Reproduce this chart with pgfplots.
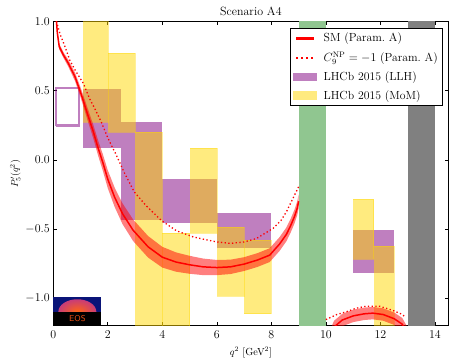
\documentclass[border=0pt]{standalone}
\usepackage{pgfplots}
\pgfplotsset{compat=1.18}
\usetikzlibrary{calc}
\definecolor{mred}{RGB}{255,0,0}
\definecolor{mpurple}{RGB}{128,0,128}
\definecolor{mgold}{RGB}{255,215,0}
\definecolor{mgreen}{RGB}{144,198,144}
\definecolor{mgray}{RGB}{128,128,128}
\definecolor{eosnavy}{RGB}{10,20,120}
\definecolor{eosorange}{RGB}{235,80,20}
\begin{document}
\begin{tikzpicture}
\begin{axis}[name=main,
  scale only axis, width=395.9bp, height=304.3bp,
  xmin=0, xmax=14.5, ymin=-1.2, ymax=1.0,
  xtick={0,2,4,6,8,10,12,14},
  ytick={-1,-0.5,0,0.5,1},
  tick align=inside, xtick pos=both, ytick pos=both,
  xticklabel pos=lower, yticklabel pos=left,
  major tick length=3.5bp,
  tick style={black, line width=0.6bp},
  axis line style={line width=0.8bp},
  yticklabel style={/pgf/number format/.cd, fixed, fixed zerofill, precision=1},
  ticklabel style={font=\fontsize{11.5}{13}\selectfont},
  xticklabel style={yshift=-1.5bp},
  title={Scenario A4}, title style={font=\fontsize{12}{14}\selectfont, yshift=-4bp},
  xlabel={$q^2$ [GeV$^2$]}, ylabel={$P_5'(q^2)$},
  label style={font=\fontsize{10.3}{12}\selectfont},
  xlabel style={yshift=-2bp},
  ylabel style={yshift=-2bp},
  legend style={at={(1,1)}, anchor=north east, xshift=-5.9bp, yshift=-6.6bp,
    draw=black, line width=0.8bp, fill=white,
    font=\fontsize{11.8}{14}\selectfont,
    inner xsep=3bp, inner ysep=3bp, row sep=5.5bp, column sep=5bp,
    nodes={inner sep=1.5bp}},
  legend cell align=left,
]
% LHCb 2015 likelihood (purple)
\addplot[draw=mpurple, draw opacity=0.5, line width=2.2bp, forget plot] coordinates {(0.11,0.248) (0.95,0.248) (0.95,0.517) (0.11,0.517) (0.11,0.248)};
\addplot[fill=mpurple, fill opacity=0.5, draw=none, forget plot] coordinates {(1.1,0.083) (2.5,0.083) (2.5,0.509) (1.1,0.509)};
\addplot[fill=mpurple, fill opacity=0.5, draw=none, forget plot] coordinates {(2.5,-0.437) (4.0,-0.437) (4.0,0.277) (2.5,0.277)};
\addplot[fill=mpurple, fill opacity=0.5, draw=none, forget plot] coordinates {(4.0,-0.46) (6.0,-0.46) (6.0,-0.14) (4.0,-0.14)};
\addplot[fill=mpurple, fill opacity=0.5, draw=none, forget plot] coordinates {(6.0,-0.642) (8.0,-0.642) (8.0,-0.388) (6.0,-0.388)};
\addplot[fill=mpurple, fill opacity=0.5, draw=none, forget plot] coordinates {(11.0,-0.819) (12.5,-0.819) (12.5,-0.51) (11.0,-0.51)};
% LHCb 2015 method of moments (yellow)
\addplot[fill=mgold, fill opacity=0.5, draw=mgold, draw opacity=0.4, line width=0.4bp, forget plot] coordinates {(1.1,0.275) (2.0,0.275) (2.0,1.3) (1.1,1.3)};
\addplot[fill=mgold, fill opacity=0.5, draw=mgold, draw opacity=0.4, line width=0.4bp, forget plot] coordinates {(2.0,0.2) (3.0,0.2) (3.0,0.775) (2.0,0.775)};
\addplot[fill=mgold, fill opacity=0.5, draw=mgold, draw opacity=0.4, line width=0.4bp, forget plot] coordinates {(3.0,-1.3) (4.0,-1.3) (4.0,0.2) (3.0,0.2)};
\addplot[fill=mgold, fill opacity=0.5, draw=mgold, draw opacity=0.4, line width=0.4bp, forget plot] coordinates {(4.0,-1.3) (5.0,-1.3) (5.0,-0.533) (4.0,-0.533)};
\addplot[fill=mgold, fill opacity=0.5, draw=mgold, draw opacity=0.4, line width=0.4bp, forget plot] coordinates {(5.0,-0.533) (6.0,-0.533) (6.0,0.087) (5.0,0.087)};
\addplot[fill=mgold, fill opacity=0.5, draw=mgold, draw opacity=0.4, line width=0.4bp, forget plot] coordinates {(6.0,-0.985) (7.0,-0.985) (7.0,-0.49) (6.0,-0.49)};
\addplot[fill=mgold, fill opacity=0.5, draw=mgold, draw opacity=0.4, line width=0.4bp, forget plot] coordinates {(7.0,-1.113) (8.0,-1.113) (8.0,-0.582) (7.0,-0.582)};
\addplot[fill=mgold, fill opacity=0.5, draw=mgold, draw opacity=0.4, line width=0.4bp, forget plot] coordinates {(11.0,-0.72) (11.75,-0.72) (11.75,-0.285) (11.0,-0.285)};
\addplot[fill=mgold, fill opacity=0.5, draw=mgold, draw opacity=0.4, line width=0.4bp, forget plot] coordinates {(11.75,-1.3) (12.5,-1.3) (12.5,-0.623) (11.75,-0.623)};
% vetoed regions
\addplot[fill=mgreen, draw=none, forget plot] coordinates {(9,-1.3) (10,-1.3) (10,1.1) (9,1.1)};
\addplot[fill=mgray, draw=none, forget plot] coordinates {(13,-1.3) (14,-1.3) (14,1.1) (13,1.1)};
% SM uncertainty band
\addplot[fill=mred, fill opacity=0.5, draw=none, forget plot] coordinates {
(0.10,1.05)(0.12,1.02)(0.15,0.94)(0.22,0.84)(0.37,0.78)(0.55,0.725)(0.80,0.63)(1.00,0.525)(1.27,0.369)(1.47,0.253)(1.65,0.138)(1.82,0.04)(2.00,-0.075)(2.25,-0.20)(2.54,-0.315)(2.93,-0.432)(3.48,-0.552)(4.00,-0.63)(4.50,-0.67)(5.00,-0.695)(5.50,-0.715)(6.00,-0.725)(6.50,-0.723)(7.00,-0.705)(7.50,-0.675)(7.94,-0.64)(8.30,-0.56)(8.55,-0.49)(8.70,-0.43)(8.85,-0.36)(8.95,-0.30)(9.00,-0.25)
(9.00,-0.35)(8.95,-0.40)(8.85,-0.46)(8.70,-0.53)(8.55,-0.59)(8.30,-0.66)(7.94,-0.74)(7.50,-0.775)(7.00,-0.805)(6.50,-0.827)(6.00,-0.835)(5.50,-0.835)(5.00,-0.825)(4.50,-0.81)(4.00,-0.78)(3.48,-0.708)(2.93,-0.588)(2.54,-0.465)(2.25,-0.34)(2.00,-0.205)(1.82,-0.08)(1.65,0.028)(1.47,0.153)(1.27,0.279)(1.00,0.455)(0.80,0.57)(0.55,0.675)(0.37,0.74)(0.22,0.80)(0.15,0.90)(0.12,0.98)(0.10,1.01)};
\addplot[fill=mred, fill opacity=0.5, draw=none, forget plot] coordinates {
(10.1,-1.255)(10.3,-1.165)(10.6,-1.115)(11.0,-1.085)(11.4,-1.07)(11.72,-1.065)(12.1,-1.075)(12.5,-1.105)(12.8,-1.145)(13.0,-1.215)
(13.0,-1.305)(12.8,-1.235)(12.5,-1.195)(12.1,-1.165)(11.72,-1.155)(11.4,-1.16)(11.0,-1.175)(10.6,-1.205)(10.3,-1.255)(10.1,-1.345)};
% SM central
\addplot[mred, line width=1.5bp, forget plot] coordinates {
(0.10,1.03)(0.12,1.00)(0.15,0.92)(0.22,0.82)(0.37,0.76)(0.55,0.70)(0.80,0.60)(1.00,0.49)(1.27,0.324)(1.47,0.203)(1.65,0.083)(1.82,-0.02)(2.00,-0.14)(2.25,-0.27)(2.54,-0.39)(2.93,-0.51)(3.48,-0.63)(4.00,-0.705)(4.50,-0.74)(5.00,-0.76)(5.50,-0.775)(6.00,-0.78)(6.50,-0.775)(7.00,-0.755)(7.50,-0.725)(7.94,-0.69)(8.30,-0.61)(8.55,-0.54)(8.70,-0.48)(8.85,-0.41)(8.95,-0.35)(9.00,-0.30)};
\addplot[mred, line width=1.5bp, forget plot] coordinates {
(10.1,-1.30)(10.3,-1.21)(10.6,-1.16)(11.0,-1.13)(11.4,-1.115)(11.72,-1.11)(12.1,-1.12)(12.5,-1.15)(12.8,-1.19)(13.0,-1.26)};
% C9 NP = -1
\addplot[mred, line width=1.3bp, dash pattern=on 1.3bp off 2.4bp, forget plot] coordinates {
(0.10,1.03)(0.12,1.00)(0.25,0.91)(0.43,0.82)(0.61,0.72)(0.83,0.64)(1.10,0.555)(1.34,0.44)(1.50,0.38)(1.76,0.275)(2.00,0.16)(2.12,0.11)(2.30,0.04)(2.60,-0.09)(2.97,-0.232)(3.42,-0.335)(3.97,-0.44)(4.52,-0.514)(5.13,-0.558)(5.56,-0.577)(5.98,-0.594)(6.50,-0.605)(7.00,-0.595)(7.45,-0.57)(8.06,-0.497)(8.35,-0.44)(8.55,-0.377)(8.79,-0.28)(9.00,-0.195)};
\addplot[mred, line width=1.3bp, dash pattern=on 1.3bp off 2.4bp, forget plot] coordinates {
(10.0,-1.157)(10.4,-1.12)(10.75,-1.10)(11.1,-1.075)(11.48,-1.06)(11.97,-1.06)(12.45,-1.09)(12.75,-1.115)(12.94,-1.14)};
% EOS logo
\fill[eosnavy] (axis cs:0,-0.99) rectangle (axis cs:1.77,-1.2);
\shade[inner color={rgb,255:red,255;green,100;blue,20}, outer color={rgb,255:red,200;green,60;blue,120}] (axis cs:0.885,-1.10) ellipse [x radius=19bp, y radius=12.5bp];
\fill[black] (axis cs:0,-1.10) rectangle (axis cs:1.77,-1.2);
\node[text=eosorange, font=\sffamily\fontsize{8.5}{9}\selectfont] at (axis cs:0.885,-1.152) {EOS};
% legend
\addlegendimage{legend image code/.code={\fill[mred] (3bp,-0.8bp) rectangle (21bp,0.8bp);}}
\addlegendentry{SM (Param.\ A)}
\addlegendimage{legend image code/.code={\foreach \k in {0,1,2,3} {\fill[mred] ($(3.5bp,-0.65bp)+(\k*5bp,0bp)$) rectangle ++(1.3bp,1.3bp);}}}
\addlegendentry{$C_9^{\mathrm{NP}} = -1$ (Param.\ A)}
\addlegendimage{legend image code/.code={\fill[mpurple, fill opacity=0.5, draw=none] (0bp,-4.3bp) rectangle (24.3bp,4.3bp);}}
\addlegendentry{LHCb 2015 (LLH)}
\addlegendimage{legend image code/.code={\fill[mgold, fill opacity=0.5, draw=none] (0bp,-4.3bp) rectangle (24.3bp,4.3bp);}}
\addlegendentry{LHCb 2015 (MoM)}
\end{axis}
\path[use as bounding box] ($(main.south west)+(-53.3bp,-36bp)$) rectangle ($(main.north east)+(-0.5bp,21.7bp)$);
\end{tikzpicture}
\end{document}
